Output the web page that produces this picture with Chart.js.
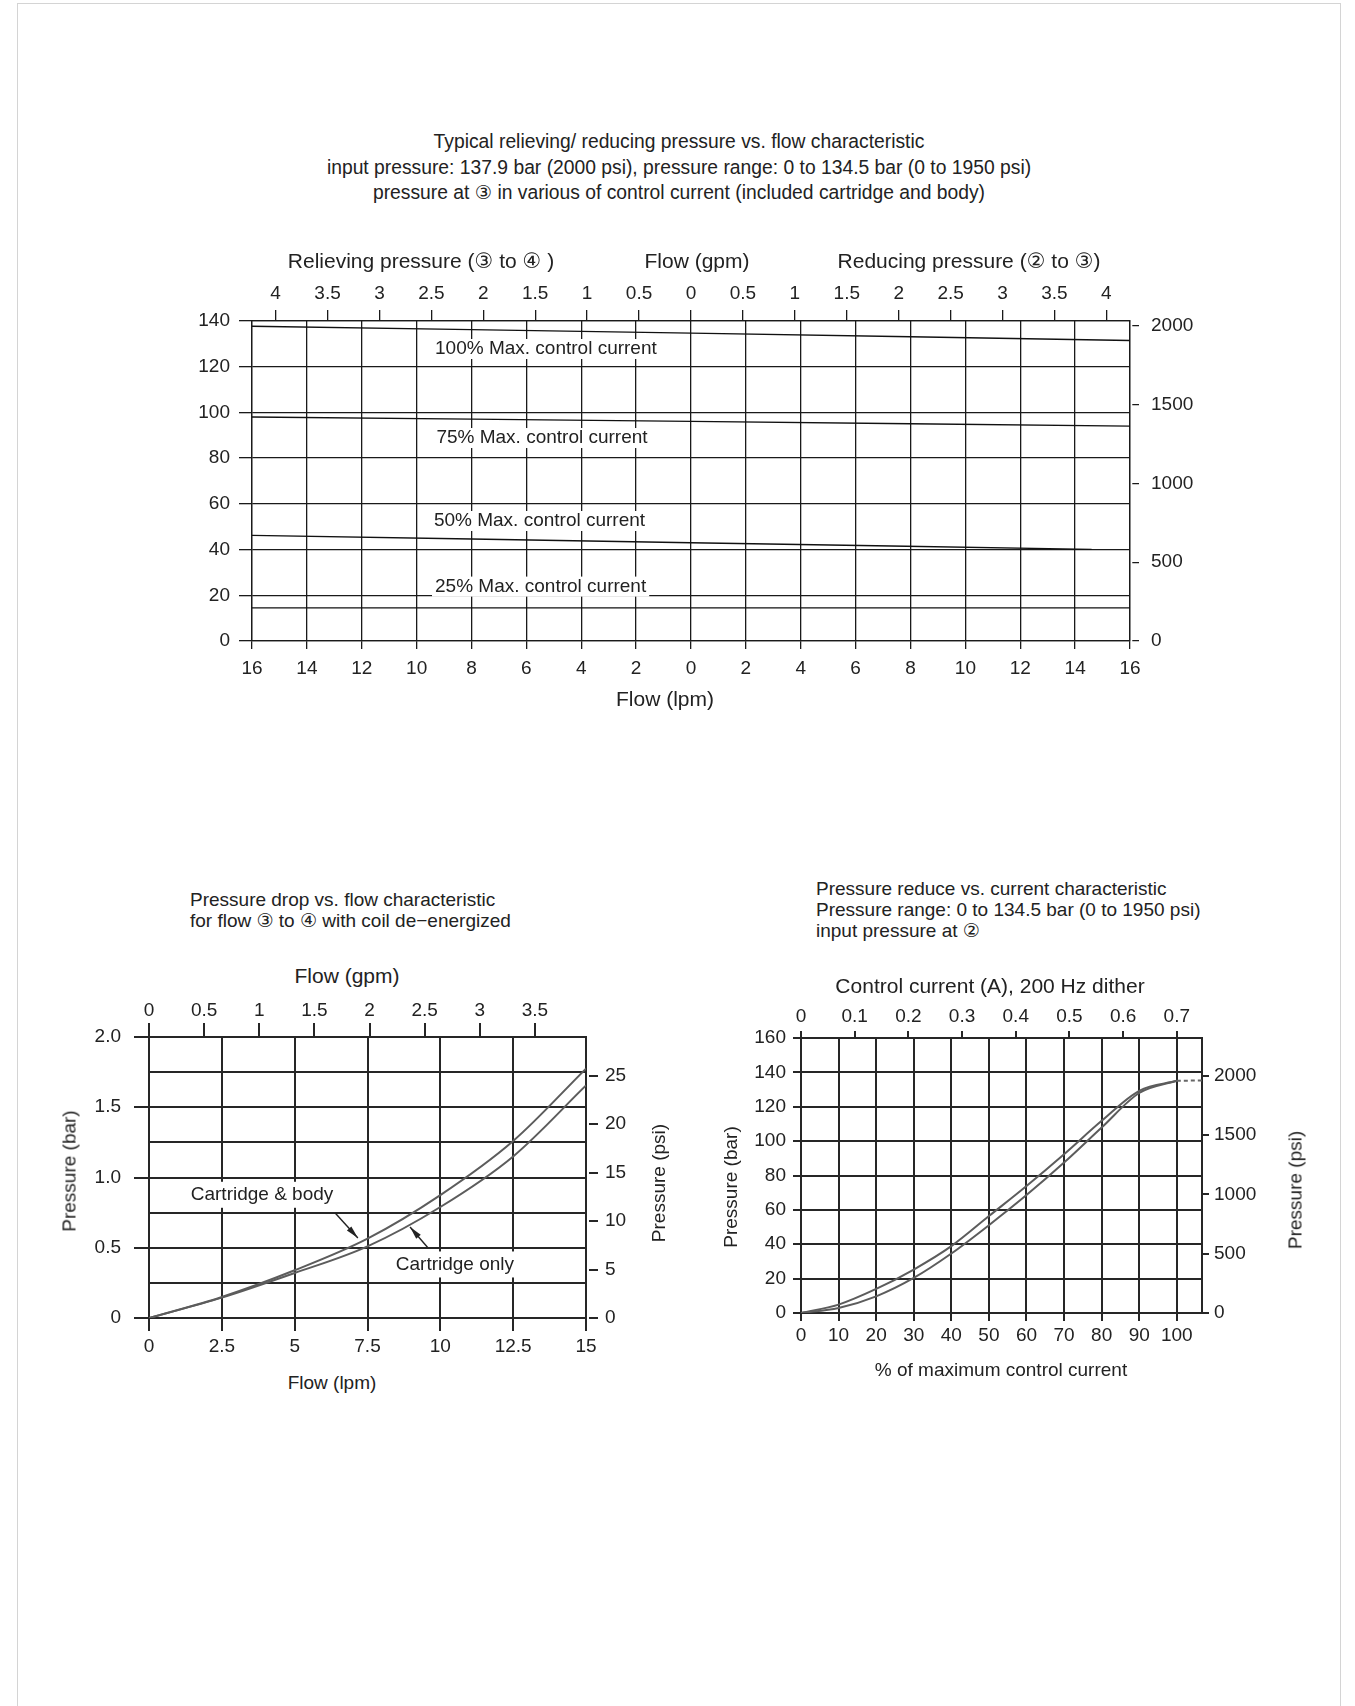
<!DOCTYPE html>
<html><head><meta charset="utf-8">
<script src="https://cdn.jsdelivr.net/npm/chart.js@4.4.1/dist/chart.umd.min.js"></script>
<style>
html,body{margin:0;padding:0;background:#fff;}
body{width:1355px;height:1706px;position:relative;overflow:hidden;font-family:"Liberation Sans","DejaVu Sans",Arial,sans-serif;color:#222;}
.frame{position:absolute;left:17px;top:3px;width:1324px;height:1760px;border:1.5px solid #d4d4d4;box-sizing:border-box;}
canvas{position:absolute;}
.t{position:absolute;white-space:nowrap;font-size:19px;line-height:1;z-index:2;}
.c{transform:translate(-50%,-50%);}
.l{transform:translate(0,-50%);}
.r{transform:translate(-50%,-50%) rotate(-90deg);}
.big{font-size:21px;}
</style></head>
<body>
<div class="frame"></div>

<div class="t c" style="left:679px;top:142px;font-size:19.3px">Typical relieving/ reducing pressure vs. flow characteristic</div>
<div class="t c" style="left:679px;top:168px;font-size:19.3px">input pressure: 137.9 bar (2000 psi), pressure range: 0 to 134.5 bar (0 to 1950 psi)</div>
<div class="t c" style="left:679px;top:193px;font-size:19.3px">pressure at ③ in various of control current (included cartridge and body)</div>
<div class="t c big" style="left:421px;top:260px">Relieving pressure (③ to ④ )</div>
<div class="t c big" style="left:697px;top:260px">Flow (gpm)</div>
<div class="t c big" style="left:969px;top:260px">Reducing pressure (② to ③)</div>
<div class="t c big" style="left:665px;top:698px">Flow (lpm)</div>

<div class="t l" style="left:190px;top:899px">Pressure drop vs. flow characteristic</div>
<div class="t l" style="left:190px;top:920px">for flow ③ to ④ with coil de−energized</div>
<div class="t c big" style="left:347px;top:975px">Flow (gpm)</div>
<div class="t c" style="left:332px;top:1382px">Flow (lpm)</div>
<div class="t r" style="left:69px;top:1171px">Pressure (bar)</div>
<div class="t r" style="left:658px;top:1183px">Pressure (psi)</div>

<div class="t l" style="left:816px;top:888px">Pressure reduce vs. current characteristic</div>
<div class="t l" style="left:816px;top:909px">Pressure range: 0 to 134.5 bar (0 to 1950 psi)</div>
<div class="t l" style="left:816px;top:930px">input pressure at ②</div>
<div class="t c big" style="left:990px;top:985px">Control current (A), 200 Hz dither</div>
<div class="t c" style="left:1001px;top:1369px">% of maximum control current</div>
<div class="t r" style="left:730px;top:1187px">Pressure (bar)</div>
<div class="t r" style="left:1295px;top:1190px">Pressure (psi)</div>

<canvas id="c1" width="1120" height="430" style="left:140px;top:265px"></canvas>
<canvas id="c2" width="600" height="380" style="left:60px;top:990px"></canvas>
<canvas id="c3" width="560" height="380" style="left:740px;top:990px"></canvas>

<script>
const LPM_PER_GPM = 3.785;
const PSI_PER_BAR = 14.5038;

// ---- Chart 1: relieving / reducing pressure vs flow ----
const relFlowTicks = [-16,-14,-12,-10,-8,-6,-4,-2,0,2,4,6,8,10,12,14,16];
const relGpmTicks = [-4,-3.5,-3,-2.5,-2,-1.5,-1,-0.5,0,0.5,1,1.5,2,2.5,3,3.5,4];
const relBarTicks = [0,20,40,60,80,100,120,140];
const relPsiTicks = [0,500,1000,1500,2000];
const relFlow = [-16, 0, 16];
const current100 = [137.7, 134.7, 131.5];
const current75 = [98.0, 96.1, 94.0];
const flow50 = [-16, 0, 14.6];
const current50 = [46.2, 43.0, 40.1];
const current25 = [14.5, 14.5, 14.5];
const relLabels = ['100% Max. control current','75% Max. control current','50% Max. control current','25% Max. control current'];
const relLabelFlow = [-9.33, -9.28, -9.37, -9.33];
const relLabelBar = [127.75, 88.8, 52.5, 23.8];

// ---- Chart 2: pressure drop vs flow ----
const dropLpmTicks = [0,2.5,5,7.5,10,12.5,15];
const dropGpmTicks = [0,0.5,1,1.5,2,2.5,3,3.5];
const dropBarTicks = [0,0.25,0.5,0.75,1,1.25,1.5,1.75,2];
const dropPsiTicks = [0,5,10,15,20,25];
const dropFlow = [0,2.5,5,7.5,10,12.5,15];
const bodyBar = [0,0.15,0.34,0.565,0.875,1.26,1.775];
const cartBar = [0,0.145,0.32,0.51,0.79,1.15,1.655];
const dropLabels = ['Cartridge & body','Cartridge only'];
const dropLabelFlow = [3.88, 10.5];
const dropLabelBar = [0.877, 0.381];
const dropArrowTail = [[6.39,0.747],[9.58,0.498]];
const dropArrowTip = [[7.17,0.569],[8.96,0.648]];

// ---- Chart 3: pressure vs control current ----
const pctTicks = [0,10,20,30,40,50,60,70,80,90,100];
const ampTicks = [0,0.1,0.2,0.3,0.4,0.5,0.6,0.7];
const curBarTicks = [0,20,40,60,80,100,120,140,160];
const curPsiTicks = [0,500,1000,1500,2000];
const pctCurrent = [0,10,20,30,40,50,60,70,80,90,100];
const upperBar = [0,4.9,14,25.3,38.9,56.4,73.9,92.4,111.8,129.3,135.1];
const lowerBar = [0,2.9,9.7,20.4,34.6,51.1,68.6,87.5,107.9,128,135.1];
const dashPct = [100,106.7];
const dashBar = [135.1,135.3];
const AMP_AT_100 = 0.7;

Chart.defaults.font.family = '"Liberation Sans","DejaVu Sans",Arial,sans-serif';
Chart.defaults.font.size = 19;
Chart.defaults.color = '#222';

const pts = (xs, ys) => xs.map((v,i)=>({x:v,y:ys[i]}));
const fixed = arr => s => { s.ticks = arr.map(v=>({value:v})); };

const notesPlugin = {
  id: 'notes',
  beforeDatasetsDraw(chart, args, o) {
    if (!o || !o.texts) return;
    const ctx = chart.ctx, xs = chart.scales.x, ys = chart.scales.y;
    ctx.save();
    ctx.font = o.font;
    o.texts.forEach((txt,i)=>{
      const px = xs.getPixelForValue(o.xs[i]), py = ys.getPixelForValue(o.ys[i]);
      const w = ctx.measureText(txt).width;
      const left = o.align === 'center' ? px - w/2 : px;
      ctx.fillStyle = '#fff';
      ctx.fillRect(left - o.padX, py - o.boxH/2, w + 2*o.padX, o.boxH);
    });
    ctx.restore();
  },
  afterDatasetsDraw(chart, args, o) {
    if (!o || !o.texts) return;
    const ctx = chart.ctx, xs = chart.scales.x, ys = chart.scales.y;
    ctx.save();
    ctx.font = o.font;
    ctx.fillStyle = '#222';
    ctx.textBaseline = 'middle';
    ctx.textAlign = o.align === 'center' ? 'center' : 'left';
    o.texts.forEach((txt,i)=>{
      ctx.fillText(txt, xs.getPixelForValue(o.xs[i]), ys.getPixelForValue(o.ys[i]));
    });
    (o.tails||[]).forEach((t,i)=>{
      const x1 = xs.getPixelForValue(t[0]), y1 = ys.getPixelForValue(t[1]);
      const x2 = xs.getPixelForValue(o.tips[i][0]), y2 = ys.getPixelForValue(o.tips[i][1]);
      const a = Math.atan2(y2-y1, x2-x1);
      ctx.strokeStyle = '#222'; ctx.lineWidth = 1.4;
      ctx.beginPath(); ctx.moveTo(x1,y1); ctx.lineTo(x2,y2); ctx.stroke();
      const L = 13, W = 3;
      ctx.beginPath();
      ctx.moveTo(x2,y2);
      ctx.lineTo(x2 - L*Math.cos(a) + W*Math.sin(a), y2 - L*Math.sin(a) - W*Math.cos(a));
      ctx.lineTo(x2 - L*Math.cos(a) - W*Math.sin(a), y2 - L*Math.sin(a) + W*Math.cos(a));
      ctx.closePath(); ctx.fillStyle = '#222'; ctx.fill();
    });
    ctx.restore();
  }
};

function axis(opts) {
  const g = opts.grid || {};
  return {
    type: 'linear', position: opts.position, min: opts.min, max: opts.max,
    afterBuildTicks: fixed(opts.ticks),
    afterFit: s => { if (opts.w !== undefined) s.width = opts.w; if (opts.h !== undefined) s.height = opts.h; },
    ticks: { autoSkip:false, maxRotation:0, padding: opts.pad, color:'#222', font:{size:19},
             callback: opts.cb || (v => String(v)) },
    grid: Object.assign({ color: opts.color, lineWidth: opts.lw, tickLength: opts.tl, tickColor: opts.color }, g),
    border: { color: opts.color, width: opts.lw }
  };
}

const baseOpts = { responsive:false, animation:false, events:[],
  layout:{padding:0},
  plugins:{ legend:{display:false}, tooltip:{enabled:false} } };

// Chart 1
const K1 = '#1a1a1a', W1 = 1.3;
const ln1 = (data) => ({ data, borderColor:'#111', borderWidth:1.4, pointRadius:0, tension:0.3, fill:false });
new Chart(document.getElementById('c1'), {
  type:'line',
  data:{ datasets:[
    ln1(pts(relFlow, current100)),
    ln1(pts(relFlow, current75)),
    ln1(pts(flow50, current50)),
    ln1(pts(relFlow, current25))
  ]},
  options: Object.assign({}, baseOpts, {
    plugins:{ legend:{display:false}, tooltip:{enabled:false},
      notes:{ texts: relLabels, xs: relLabelFlow, ys: relLabelBar, font:'19px "Liberation Sans","DejaVu Sans",sans-serif', align:'left', padX:3, boxH:20 } },
    scales:{
      x: axis({position:'bottom', min:-16, max:16, ticks:relFlowTicks, h:54, pad:8, color:K1, lw:W1, tl:8, cb:v=>String(Math.abs(v))}),
      xg: axis({position:'top', min:-16/LPM_PER_GPM, max:16/LPM_PER_GPM, ticks:relGpmTicks, h:56, pad:5, color:K1, lw:W1, tl:11, cb:v=>String(Math.abs(v)), grid:{drawOnChartArea:false}}),
      y: axis({position:'left', min:0, max:140, ticks:relBarTicks, w:112, pad:9, color:K1, lw:W1, tl:13}),
      yp: axis({position:'right', min:0, max:140*PSI_PER_BAR, ticks:relPsiTicks, w:130, pad:12, color:K1, lw:W1, tl:9, grid:{drawOnChartArea:false, tickBorderDash:[0,2,7,60]}})
    }
  }),
  plugins:[notesPlugin]
});

// Chart 2
const K2 = '#262626', W2 = 2;
const ln2 = (data) => ({ data, borderColor:'#5c5c5c', borderWidth:2, pointRadius:0, cubicInterpolationMode:'monotone', fill:false });
new Chart(document.getElementById('c2'), {
  type:'line',
  data:{ datasets:[ ln2(pts(dropFlow, bodyBar)), ln2(pts(dropFlow, cartBar)) ]},
  options: Object.assign({}, baseOpts, {
    plugins:{ legend:{display:false}, tooltip:{enabled:false},
      notes:{ texts: dropLabels, xs: dropLabelFlow, ys: dropLabelBar, font:'19px "Liberation Sans","DejaVu Sans",sans-serif', align:'center', padX:6, boxH:26,
              tails: dropArrowTail, tips: dropArrowTip } },
    scales:{
      x: axis({position:'bottom', min:0, max:15, ticks:dropLpmTicks, h:52, pad:4, color:K2, lw:W2, tl:13}),
      xg: axis({position:'top', min:0, max:15/LPM_PER_GPM, ticks:dropGpmTicks, h:47, pad:1, color:K2, lw:W2, tl:14, grid:{drawOnChartArea:false}}),
      y: axis({position:'left', min:0, max:2, ticks:dropBarTicks, w:89, pad:13, color:K2, lw:W2, tl:15,
               cb: v => v === 0 ? '0' : (Math.abs(v*2 - Math.round(v*2)) < 1e-9 ? v.toFixed(1) : ''),
               grid:{ tickColor: c => (c.tick && Math.abs(c.tick.value*2 - Math.round(c.tick.value*2)) < 1e-9) ? K2 : 'rgba(0,0,0,0)' }}),
      yp: axis({position:'right', min:0, max:2*PSI_PER_BAR, ticks:dropPsiTicks, w:74, pad:7, color:K2, lw:W2, tl:12, grid:{drawOnChartArea:false, tickBorderDash:[0,2,10,60]}})
    }
  }),
  plugins:[notesPlugin]
});

// Chart 3
new Chart(document.getElementById('c3'), {
  type:'line',
  data:{ datasets:[
    ln2(pts(pctCurrent, upperBar)),
    ln2(pts(pctCurrent, lowerBar)),
    { data: pts(dashPct, dashBar), borderColor:'#666', borderWidth:2, borderDash:[4,3], pointRadius:0, fill:false }
  ]},
  options: Object.assign({}, baseOpts, {
    scales:{
      x: axis({position:'bottom', min:0, max:106.7, ticks:pctTicks, h:57, pad:3, color:K2, lw:W2, tl:8}),
      xg: axis({position:'top', min:0, max:106.7*AMP_AT_100/100, ticks:ampTicks, h:48, pad:3, color:K2, lw:W2, tl:7, grid:{drawOnChartArea:false}}),
      y: axis({position:'left', min:0, max:160, ticks:curBarTicks, w:61, pad:7, color:K2, lw:W2, tl:8}),
      yp: axis({position:'right', min:0, max:160*PSI_PER_BAR, ticks:curPsiTicks, w:98, pad:5, color:K2, lw:W2, tl:7, grid:{drawOnChartArea:false}})
    }
  })
});
</script>
</body></html>
